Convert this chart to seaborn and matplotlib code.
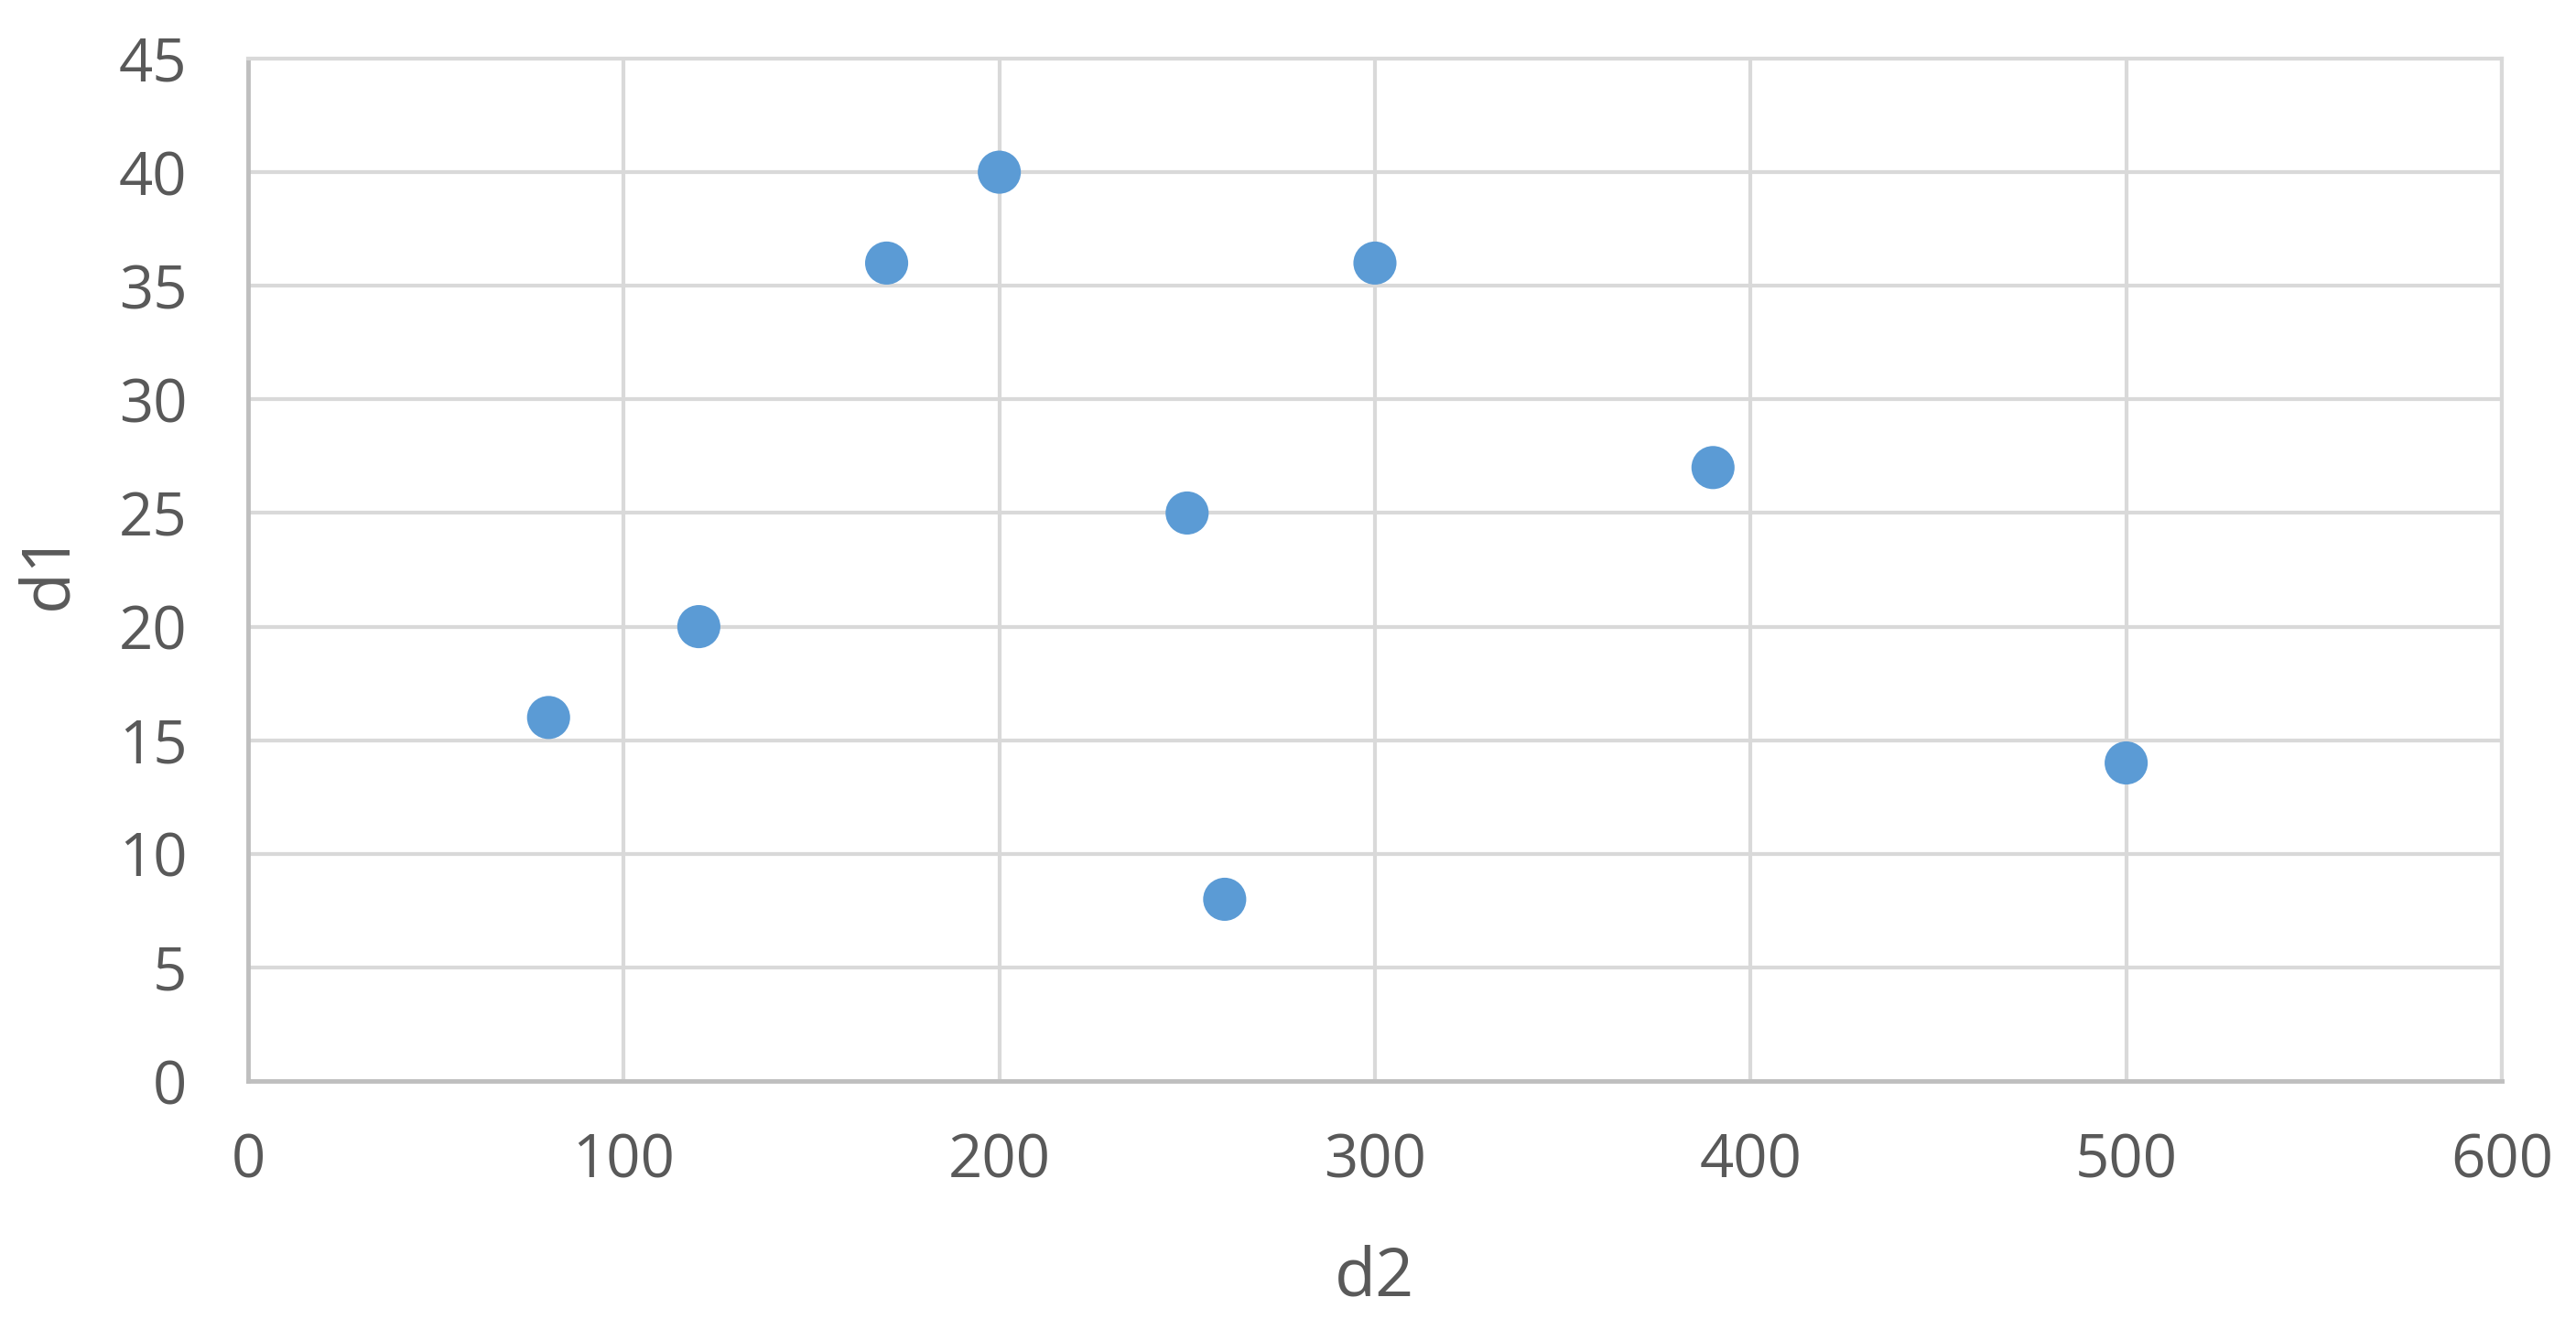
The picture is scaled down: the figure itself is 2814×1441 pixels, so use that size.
import matplotlib
matplotlib.use("Agg")
import matplotlib.pyplot as plt
import seaborn as sns
import pandas as pd

# valores
d2 = [80, 120, 170, 200, 250, 260, 300, 390, 500]
d1 = [16, 20, 36, 40, 25, 8, 36, 27, 14]
xticks = [0, 100, 200, 300, 400, 500, 600]
yticks = [0, 5, 10, 15, 20, 25, 30, 35, 40, 45]

df = pd.DataFrame({"d2": d2, "d1": d1})

sns.set_style("white")
plt.rcParams["font.family"] = ["Open Sans", "DejaVu Sans"]

fig = plt.figure(figsize=(28.14, 14.41), dpi=100)
ax = fig.add_axes([0.0963, 0.1804, 0.8749, 0.7752])

sns.scatterplot(data=df, x="d2", y="d1", ax=ax, s=1150, color="#5B9BD5",
                edgecolor="none", linewidth=0, zorder=3)

ax.set_xlim(0, 600)
ax.set_ylim(0, 45)
ax.set_xticks(xticks)
ax.set_yticks(yticks)
ax.grid(True, color="#D9D9D9", linewidth=3, zorder=0)
ax.set_axisbelow(True)

for side in ["top", "right"]:
    ax.spines[side].set_color("#D9D9D9")
    ax.spines[side].set_linewidth(3)
for side in ["left", "bottom"]:
    ax.spines[side].set_color("#BFBFBF")
    ax.spines[side].set_linewidth(3.5)

ax.tick_params(axis="both", length=0, labelsize=47, labelcolor="#595959")
ax.tick_params(axis="x", pad=40)
ax.tick_params(axis="y", pad=48)

ax.set_xlabel("d2", fontsize=53, color="#595959")
ax.set_ylabel("d1", fontsize=53, color="#595959")
ax.xaxis.set_label_coords(0.5, -0.193)
ax.xaxis.label.set_va("center")
ax.yaxis.set_label_coords(-0.0885, 0.5)
ax.yaxis.label.set_va("center")

plt.savefig("out.png", dpi=100)
